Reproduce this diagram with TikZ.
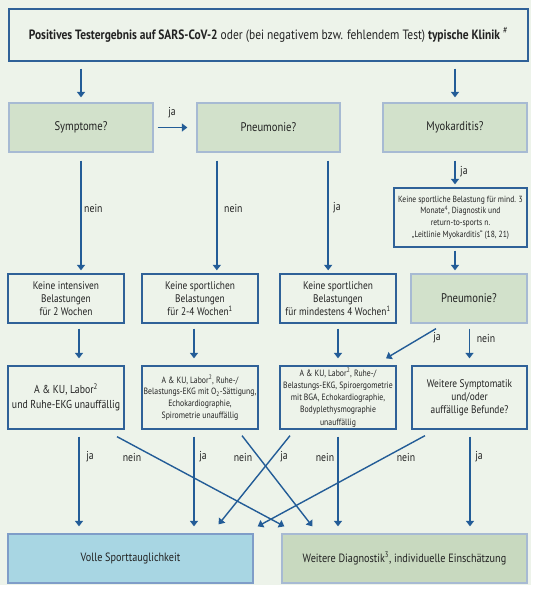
\documentclass[tikz,border=0pt]{standalone}
\usepackage{fontspec}
\setmainfont{PT Sans}[FakeStretch=0.85]
\usetikzlibrary{arrows.meta,calc}
\definecolor{bg}{HTML}{EDF3EA}
\definecolor{boxborder}{HTML}{2F6198}
\definecolor{greenfill}{HTML}{D2E1CB}
\definecolor{greenborder}{HTML}{A7BAD3}
\definecolor{bluefill}{HTML}{A8D6E3}
\definecolor{blueborder}{HTML}{7F9DC8}
\definecolor{weiterefill}{HTML}{C8D9BF}
\definecolor{arrowcol}{HTML}{235C97}
\definecolor{txt}{HTML}{222222}
\tikzset{
  base/.style={rectangle, inner sep=0pt, align=center, text=txt},
  whitebox/.style={base, draw=boxborder, line width=1.3pt, fill=bg},
  greenbox/.style={base, draw=greenborder, line width=1.3pt, fill=greenfill},
  bluebox/.style={base, draw=blueborder, line width=1.3pt, fill=bluefill},
  diagbox/.style={base, draw=greenborder, line width=1.3pt, fill=weiterefill},
  arr/.style={draw=arrowcol, line width=1.4pt, -{Triangle[width=8pt,length=5.5pt]}},
  lbl/.style={text=txt, inner sep=0pt, font=\fontsize{11.5}{13}\selectfont},
}
\begin{document}
\begin{tikzpicture}[x=1pt,y=-1pt]
\fill[white] (0,0) rectangle (535,590);
\fill[bg] (0,0) rectangle (531,585);
\useasboundingbox (0,0) rectangle (535,590);

% row 1
\node[whitebox, minimum width=519pt, minimum height=52pt, font=\fontsize{13.5}{16}\selectfont] (top) at (268.5,35)
  {\textbf{Positives Testergebnis auf SARS-CoV-2} oder (bei negativem bzw. fehlendem Test) \textbf{typische Klinik} \textsuperscript{\#}};

% row 2
\node[greenbox, minimum width=144pt, minimum height=49pt, font=\fontsize{12.5}{15}\selectfont] (symp) at (81,127.5) {Symptome?};
\node[greenbox, minimum width=143pt, minimum height=49pt, font=\fontsize{12.5}{15}\selectfont] (pneu) at (268.5,127.5) {Pneumonie?};
\node[greenbox, minimum width=144pt, minimum height=49pt, font=\fontsize{12.5}{15}\selectfont] (myo) at (455,127.5) {Myokarditis?};

\node[whitebox, minimum width=133pt, minimum height=59pt, font=\fontsize{8.9}{11.6}\selectfont] (myotxt) at (460.5,217.5)
  {Keine sportliche Belastung für mind. 3\\Monate\textsuperscript{4}, Diagnostik und\\return-to-sports n.\\„Leitlinie Myokarditis“ (18, 21)};

% row 3
\node[whitebox, minimum width=116pt, minimum height=49pt, font=\fontsize{11}{12.7}\selectfont] (r3a) at (66,298.5)
  {Keine intensiven\\Belastungen\\für 2 Wochen};
\node[whitebox, minimum width=116pt, minimum height=49pt, font=\fontsize{11}{12.7}\selectfont] (r3b) at (200,298.5)
  {Keine sportlichen\\Belastungen\\für 2-4 Wochen\textsuperscript{1}};
\node[whitebox, minimum width=116pt, minimum height=49pt, font=\fontsize{11}{12.7}\selectfont] (r3c) at (338,298.5)
  {Keine sportlichen\\Belastungen\\für mindestens 4 Wochen\textsuperscript{1}};
\node[greenbox, minimum width=116pt, minimum height=49pt, font=\fontsize{12.5}{15}\selectfont] (pneu2) at (469,298.5) {Pneumonie?};

% row 4
\node[whitebox, minimum width=116pt, minimum height=63pt, font=\fontsize{11.5}{15}\selectfont] (r4a) at (66,397.5)
  {A \& KU, Labor\textsuperscript{2}\\und Ruhe-EKG unauffällig};
\node[whitebox, minimum width=116pt, minimum height=63pt, font=\fontsize{9.1}{11.7}\selectfont] (r4b) at (200,397.5)
  {A \& KU, Labor\textsuperscript{2}, Ruhe-/\\Belastungs-EKG mit O\textsubscript{2}-Sättigung,\\Echokardiographie,\\Spirometrie unauffällig};
\node[whitebox, minimum width=116pt, minimum height=63pt, font=\fontsize{9.1}{12.2}\selectfont] (r4c) at (338,397.5)
  {A \& KU, Labor\textsuperscript{2}, Ruhe-/\\Belastungs-EKG, Spiroergometrie\\mit BGA, Echokardiographie,\\Bodyplethysmographie\\unauffällig};
\node[whitebox, minimum width=115pt, minimum height=63pt, font=\fontsize{11}{12.8}\selectfont] (r4d) at (469.5,397.5)
  {Weitere Symptomatik\\und/oder\\auffällige Befunde?};

% bottom
\node[bluebox, minimum width=245pt, minimum height=49pt, font=\fontsize{12}{15}\selectfont] (volle) at (130.5,558.5) {Volle Sporttauglichkeit};
\node[diagbox, minimum width=245pt, minimum height=49pt, font=\fontsize{12}{15}\selectfont] (weitere) at (404.5,558.5) {Weitere Diagnostik\textsuperscript{3}, individuelle Einschätzung};

% connectors row 1 -> row 2
\draw[arr, shorten <=7pt, shorten >=5pt] (top.south -| symp.south) -- (symp.north);
\draw[arr, shorten <=7pt, shorten >=5pt] (top.south -| myo.south) -- (myo.north);
\draw[arr, shorten <=4pt, shorten >=9pt] (symp.east) -- (pneu.west);
\node[lbl] (l1) at (172,113) {ja};

% row 2 -> row 3
\draw[arr, shorten <=8pt, shorten >=3pt] (symp.south) -- (symp.south |- r3a.north);
\node[lbl, anchor=west] (l2) at (84,208) {nein};
\draw[arr, shorten <=8pt, shorten >=3pt] ([xshift=20.5pt]pneu.south west) -- ([xshift=20.5pt]pneu.south west |- r3b.north);
\node[lbl, anchor=west] (l3) at (224,208) {nein};
\draw[arr, shorten <=8pt, shorten >=3pt] ([xshift=-12.5pt]pneu.south east) -- ([xshift=-12.5pt]pneu.south east |- r3c.north);
\node[lbl, anchor=west] (l4) at (333,208) {ja};
\draw[arr, shorten <=8pt, shorten >=3pt] (myo.south) -- (myo.south |- myotxt.north);
\node[lbl, anchor=west] (l5) at (460,172) {ja};
\draw[arr, shorten <=3pt, shorten >=3pt] (myo.south |- myotxt.south) -- (myo.south |- pneu2.north);

% row 3 -> row 4
\draw[arr, shorten <=5pt, shorten >=7pt] ([xshift=13pt]r3a.south) -- ([xshift=13pt]r4a.north);
\draw[arr, shorten <=5pt, shorten >=7pt] ([xshift=-6pt]r3b.south) -- ([xshift=-6pt]r4b.north);
\draw[arr, shorten <=5pt, shorten >=7pt] (r3c.south) -- (r4c.north);
\draw[arr, shorten <=5pt, shorten >=7pt] ([xshift=0.5pt]pneu2.south) -- ([xshift=0.5pt]pneu2.south |- r4d.north);
\draw[arr] ([shift={(-33,5)}]pneu2.south) -- ([shift={(48,-7)}]r4c.north);
\node[lbl] (l6) at (437,338) {ja};
\node[lbl] (l7) at (486,338) {nein};

% row 4 -> bottom
\draw[arr, shorten <=7pt, shorten >=7pt] ([xshift=13pt]r4a.south) -- ([xshift=13pt]r4a.south |- volle.north);
\draw[arr, shorten <=7pt, shorten >=7pt] ([xshift=-6pt]r4b.south) -- ([xshift=-6pt]r4b.south |- volle.north);
\draw[arr, shorten <=7pt, shorten >=7pt] (r4c.south) -- (r4c.south |- weitere.north);
\draw[arr, shorten <=7pt, shorten >=7pt] ([xshift=0.5pt]r4d.south) -- ([xshift=0.5pt]r4d.south |- weitere.north);
\draw[arr] ([shift={(51,7)}]r4a.south) -- ([shift={(3,-7)}]weitere.north west);
\draw[arr] ([shift={(42,6)}]r4b.south) -- ([shift={(31,-7)}]weitere.north west);
\draw[arr] ([shift={(-48,6)}]r4c.south) -- ([shift={(-35,-9)}]volle.north east);
\draw[arr] ([shift={(-44.5,6)}]r4d.south) -- ([shift={(4,-7)}]volle.north east);

\node[lbl] (b1) at (90,457) {ja};
\node[lbl] (b2) at (132,457) {nein};
\node[lbl] (b3) at (203,457) {ja};
\node[lbl] (b4) at (243,457) {nein};
\node[lbl] (b5) at (284,457) {ja};
\node[lbl] (b6) at (325,457) {nein};
\node[lbl] (b7) at (406,457) {nein};
\node[lbl] (b8) at (479,457) {ja};
\end{tikzpicture}
\end{document}
